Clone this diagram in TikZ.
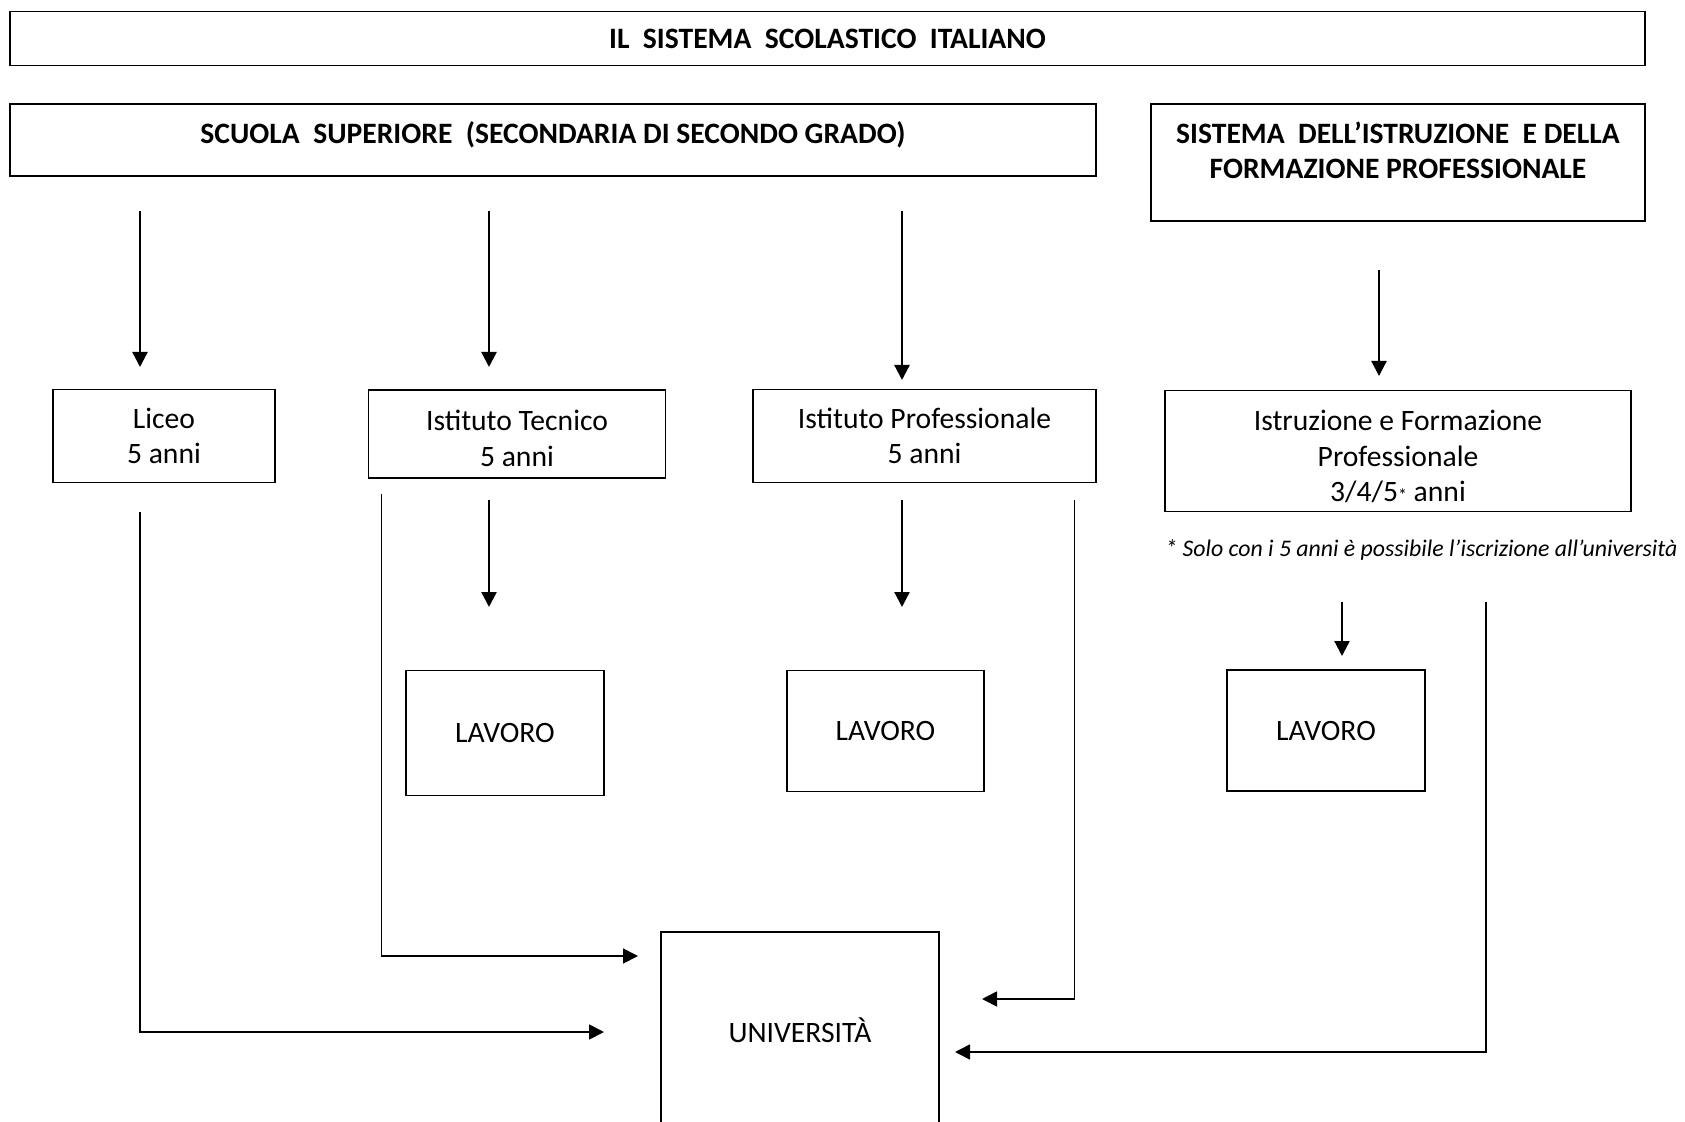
\documentclass[tikz,border=0pt]{standalone}
\usepackage{fontspec}
\setmainfont{Carlito}
\usetikzlibrary{arrows.meta}

\begin{document}
\begin{tikzpicture}[x=0.5pt, y=-0.5pt,
		box/.style={draw, line width=0.7pt, inner sep=0pt, align=center, font=\fontsize{14.8}{17.7}\selectfont},
		capbox/.style={box, font=\fontsize{14.8}{17.7}\selectfont\bfseries},
		arr/.style={line width=1.15pt, -{Triangle[length=7.5pt,width=7.5pt]}},
		link/.style={line width=0.85pt, -{Triangle[length=7.5pt,width=7.5pt]}}]
		\useasboundingbox (0, 0) rectangle (1685, 1122);
		\clip (0, 0) rectangle (1685, 1122);
		\node[capbox, minimum width=817.5pt, minimum height=27pt] (titolo) at (827.5, 38.6) {IL\ \ SISTEMA\ \ SCOLASTICO\ \ ITALIANO};
		\node[capbox, minimum width=543pt, minimum height=36pt, text depth=7.5pt] (superiore) at (553, 140) {SCUOLA\ \ SUPERIORE\ \ (SECONDARIA DI SECONDO GRADO)};
		\node[capbox, minimum width=247pt, minimum height=58.5pt, text depth=12.2pt] (sistema) at (1398, 162.5) {SISTEMA\ \ DELL'ISTRUZIONE\ \ E DELLA\\FORMAZIONE PROFESSIONALE};
		\node[box, minimum width=111pt, minimum height=46.25pt] (liceo) at (164, 436) {Liceo\\5 anni};
		\node[box, minimum width=148.25pt, minimum height=44pt, text height=32.3pt] (tecnico) at (517, 434) {Istituto Tecnico\\5 anni};
		\node[box, minimum width=171.5pt, minimum height=46.25pt] (profess) at (924.5, 436) {Istituto Professionale\\5 anni};
		\node[box, minimum width=233pt, minimum height=60.75pt, text height=50.5pt, text depth=0pt] (iefp) at (1398, 451) {Istruzione e Formazione\\Professionale\\3/4/5{\small*} anni};
		\node[anchor=west, inner sep=0pt, font=\fontsize{11.9}{15}\selectfont\itshape] (nota) at (1165, 550) {* Solo con i 5 anni è possibile l'iscrizione all'università};
		\node[box, minimum width=99pt, minimum height=62.75pt] (lavoroT) at (505, 733) {LAVORO};
		\node[box, minimum width=98.5pt, minimum height=60.25pt] (lavoroP) at (885.5, 731) {LAVORO};
		\node[box, minimum width=99pt, minimum height=60.5pt] (lavoroF) at (1326, 730.5) {LAVORO};
		\node[box, minimum width=139pt, minimum height=98pt] (univ) at (800, 1030) {UNIVERSITÀ};

		\coordinate (sL) at (140, 211);
		\coordinate (eL) at (140, 367);
		\coordinate (sT) at (489, 211);
		\coordinate (eT) at (489, 367);
		\coordinate (sP) at (902, 211);
		\coordinate (eP) at (902, 380);
		\coordinate (sF) at (1379, 270);
		\coordinate (eF) at (1379, 376);
		\draw[arr] (sL) -- (eL);
		\draw[arr] (sT) -- (eT);
		\draw[arr] (sP) -- (eP);
		\draw[arr] (sF) -- (eF);

		\coordinate (wT) at (489, 500);
		\coordinate (vT) at (489, 607);
		\coordinate (wP) at (902, 500);
		\coordinate (vP) at (902, 607);
		\coordinate (wF) at (1342, 602);
		\coordinate (vF) at (1342, 656);
		\draw[arr] (wT) -- (vT);
		\draw[arr] (wP) -- (vP);
		\draw[arr] (wF) -- (vF);

		\coordinate (uL) at (140, 512);
		\coordinate (tL) at (604, 1032);
		\coordinate (uT) at (381.5, 494);
		\coordinate (tT) at (638, 956);
		\coordinate (uP) at (1074.6, 500);
		\coordinate (tP) at (982, 999);
		\coordinate (uF) at (1486, 602);
		\coordinate (tF) at (955, 1052);
		\draw[link] (uL) |- (tL);
		\draw[link] (uT) |- (tT);
		\draw[link] (uP) |- (tP);
		\draw[link] (uF) |- (tF);
	\end{tikzpicture}
\end{document}
